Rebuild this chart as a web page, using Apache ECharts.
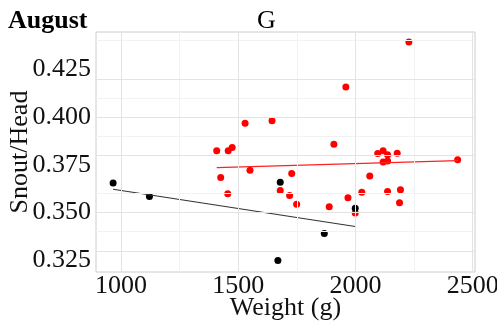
<!DOCTYPE html>
<html>
<head>
<meta charset="utf-8">
<script src="https://cdn.jsdelivr.net/npm/echarts@6/dist/echarts.min.js"></script>
<style>html,body{margin:0;padding:0;background:#fff;}#c{width:497px;height:325px;}</style>
</head>
<body>
<div id="c"></div>
<script>
// Red group
const redWeight = [1408,1425,1455,1457,1474,1529,1550,1644,1679,1719,1728,1749,1888,1908,1959,1968,1999,2027,2061,2095,2118,2118,2137,2137,2137,2178,2188,2192,2228,2436];
const redRatio  = [0.3823,0.3683,0.3599,0.3823,0.3840,0.3968,0.3722,0.3980,0.3615,0.3589,0.3704,0.3544,0.3531,0.3858,0.4157,0.3577,0.3498,0.3607,0.3692,0.3809,0.3824,0.3765,0.3803,0.3770,0.3610,0.3811,0.3552,0.3619,0.4393,0.3777];
// Black group
const blackWeight = [966,1121,1669,1679,1867,1999];
const blackRatio  = [0.3655,0.3584,0.3249,0.3659,0.3390,0.3523];
// Fitted lines
const redFitX = [1408,2436];
const redFitY = [0.3735,0.3772];
const blackFitX = [966,1999];
const blackFitY = [0.3622,0.3427];
// Tick labels
const xTicks = [1000,1500,2000,2500];
const yTicks = [0.325,0.350,0.375,0.400,0.425];
const xMinor = [1250,1750,2250];
const yMinor = [0.3375,0.3625,0.3875,0.4125,0.4375];

const zip = (a,b) => a.map((v,i)=>[v,b[i]]);
const font = 'Liberation Serif';
const fs = 26;

const gridLines = [];
xMinor.forEach(v=>gridLines.push({xAxis:v, lineStyle:{color:'#f2f2f2',width:1,type:'solid'}}));
yMinor.forEach(v=>gridLines.push({yAxis:v, lineStyle:{color:'#f2f2f2',width:1,type:'solid'}}));
xTicks.forEach(v=>gridLines.push({xAxis:v, lineStyle:{color:'#e3e3e3',width:1,type:'solid'}}));
yTicks.forEach(v=>gridLines.push({yAxis:v, lineStyle:{color:'#e3e3e3',width:1,type:'solid'}}));

const chart = echarts.init(document.getElementById('c'), null, {renderer:'canvas'});
chart.setOption({
  animation:false,
  backgroundColor:'#fff',
  title:[
    {text:'August', left:3, top:3, textStyle:{fontFamily:font,fontWeight:'bold',fontSize:fs,color:'#000'}},
    {text:'G', left:252, top:3, textStyle:{fontFamily:font,fontWeight:'normal',fontSize:fs,color:'#000'}}
  ],
  grid:{left:96,right:22,top:32,bottom:53,show:true,borderColor:'#cccccc',borderWidth:1,backgroundColor:'transparent',containLabel:false,outerBoundsMode:'none'},
  xAxis:{
    type:'value', min:893, max:2510,
    name:'Weight (g)', nameLocation:'middle', nameGap:23, nameMoveOverlap:false,
    nameTextStyle:{fontFamily:font,fontSize:fs,color:'#111'},
    axisLine:{show:false}, axisTick:{show:false}, splitLine:{show:false},
    axisLabel:{customValues:xTicks, fontFamily:font, fontSize:fs, color:'#111', margin:1, formatter:v=>String(v)}
  },
  yAxis:{
    type:'value', min:0.3189, max:0.4445,
    name:'Snout/Head', nameLocation:'middle', nameGap:63, nameRotate:90, nameMoveOverlap:false,
    nameTextStyle:{fontFamily:font,fontSize:fs,color:'#111'},
    axisLine:{show:false}, axisTick:{show:false}, splitLine:{show:false},
    axisLabel:{customValues:yTicks, fontFamily:font, fontSize:fs, color:'#111', margin:5, formatter:v=>v.toFixed(3)}
  },
  series:[
    {type:'line', data:[], markLine:{silent:true, symbol:'none', label:{show:false}, animation:false, data:gridLines}, z:1},
    {type:'scatter', data:zip(redWeight,redRatio), symbolSize:7, itemStyle:{color:'#ff0000',opacity:1}, z:3},
    {type:'scatter', data:zip(blackWeight,blackRatio), symbolSize:7, itemStyle:{color:'#000000',opacity:1}, z:3},
    {type:'line', data:zip(redFitX,redFitY), symbol:'none', lineStyle:{color:'#ff2020',width:1.2}, z:4},
    {type:'line', data:zip(blackFitX,blackFitY), symbol:'none', lineStyle:{color:'#333333',width:1.2}, z:4}
  ]
});
</script>
</body>
</html>
